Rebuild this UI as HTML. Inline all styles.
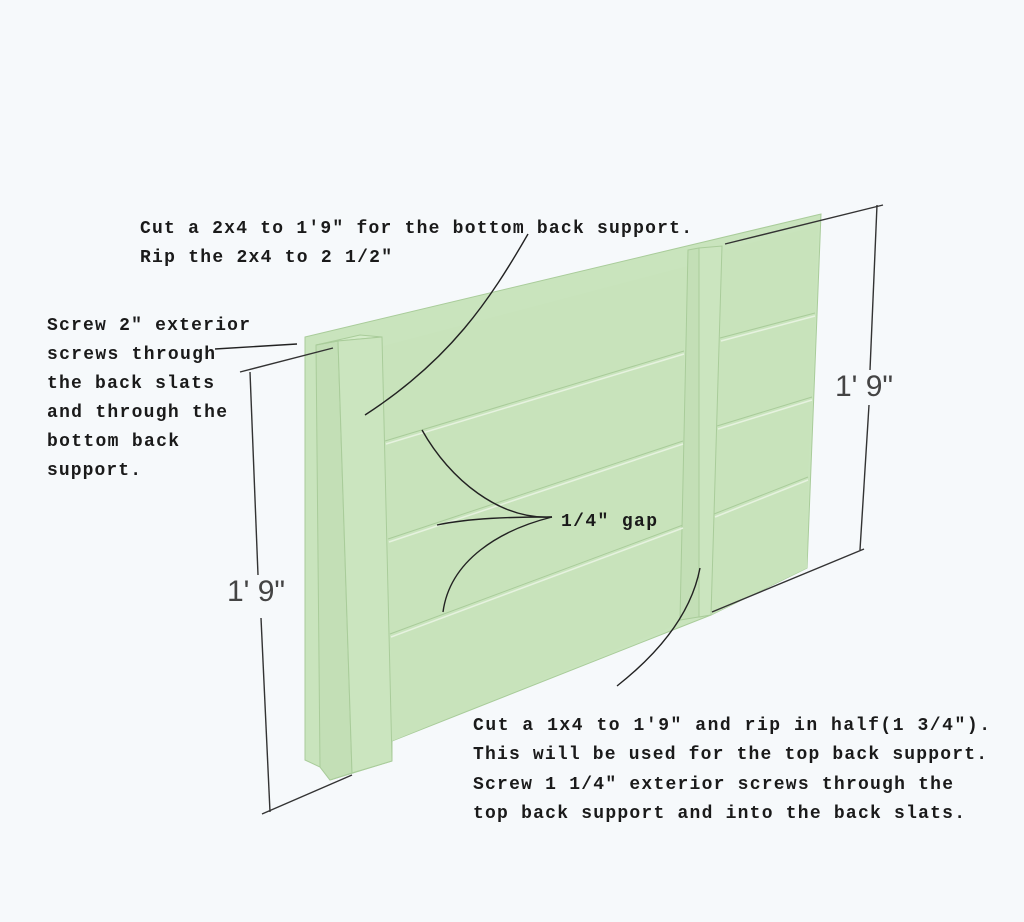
<!DOCTYPE html>
<html><head><meta charset="utf-8"><style>
html,body{margin:0;padding:0;background:#f6f9fb;}
svg{display:block}
.t{font-family:"Liberation Mono",monospace;font-weight:bold;font-size:18px;fill:#1a1a1a}
.d{font-family:"Liberation Sans",sans-serif;font-size:30px;fill:#444;font-weight:normal}
</style></head><body>
<svg width="1024" height="922" viewBox="0 0 1024 922" xmlns="http://www.w3.org/2000/svg">
<rect width="1024" height="922" fill="#f6f9fb"/>
<g stroke="#a9cc9a" stroke-width="1" fill="#c9e4bd">
<polygon points="305,337 821,214 807,568 711,615 392,741 392,761 330,780 320,767 305,760"/>
</g>
<g stroke="none" fill="#c8e3bb">
<polygon points="722,250 818,226 815,313 720,338"/>
<polygon points="720,342 815,317 812,397 717,426"/>
<polygon points="717,430 812,401 808,477 714,514"/>
<polygon points="714,518 808,481 807,568 711,615"/>
<polygon points="383,346 688,266 684,351 385,441"/>
<polygon points="385,445 684,355 683,441 388,539"/>
<polygon points="388,543 683,445 683,525 390,634"/>
<polygon points="390,638 683,529 681,623 392,741"/>
</g>
<g stroke="#a9cc9a" stroke-width="1" fill="none">
<line x1="385" y1="441" x2="684" y2="351"/>
<line x1="388" y1="539" x2="683" y2="441"/>
<line x1="390" y1="634" x2="683" y2="525"/>
<line x1="720" y1="338" x2="815" y2="313"/>
<line x1="717" y1="426" x2="812" y2="397"/>
<line x1="714" y1="514" x2="808" y2="477"/>
</g>
<g stroke="#a9cc9a" stroke-width="1">
<polygon points="688,250 699,248 711,615 680,620" fill="#c3dfb6"/>
<polygon points="699,248 722,246 711,615 699,617" fill="#cbe5bf"/>
<polygon points="316,345 338,341 352,773 330,780 320,767" fill="#c3dfb6"/>
<polygon points="316,345 360,335 382,337 338,341" fill="#d3ebc8"/>
<polygon points="338,341 382,337 392,761 352,773" fill="#cbe5bf"/>
</g>
<g stroke="#e6f2df" stroke-width="1.5">
<line x1="386" y1="444" x2="684" y2="354"/>
<line x1="389" y1="542" x2="683" y2="444"/>
<line x1="391" y1="637" x2="683" y2="528"/>
<line x1="721" y1="341" x2="815" y2="316"/>
<line x1="718" y1="429" x2="812" y2="400"/>
<line x1="715" y1="517" x2="808" y2="480"/>
</g>
<g stroke="#333" stroke-width="1.4" fill="none">
<line x1="240" y1="372" x2="333" y2="348"/>
<line x1="250" y1="372" x2="258" y2="575"/>
<line x1="261" y1="618" x2="270" y2="812"/>
<line x1="262" y1="814" x2="352" y2="775"/>
<line x1="725" y1="244" x2="883" y2="205"/>
<line x1="877" y1="205" x2="870" y2="370"/>
<line x1="869" y1="405" x2="860" y2="550"/>
<line x1="864" y1="549" x2="712" y2="612"/>
</g>
<text class="d" x="227" y="601">1' 9"</text>
<text class="d" x="835" y="396">1' 9"</text>
<g stroke="#222" stroke-width="1.4" fill="none">
<path d="M528,234 C490,300 450,360 365,415"/>
<line x1="215" y1="349" x2="297" y2="344"/>
<path d="M552,517 C500,520 450,480 422,430"/>
<path d="M552,517 C510,517 470,518 437,525"/>
<path d="M552,517 C500,530 450,560 443,612"/>
<path d="M617,686 C650,660 690,620 700,568"/>
</g>
<text class="t" x="140" y="233" textLength="552" lengthAdjust="spacing">Cut a 2x4 to 1'9" for the bottom back support.</text>
<text class="t" x="140" y="262" textLength="252" lengthAdjust="spacing">Rip the 2x4 to 2 1/2"</text>
<text class="t" x="47" y="330" textLength="203" lengthAdjust="spacing">Screw 2" exterior</text>
<text class="t" x="47" y="359" textLength="168" lengthAdjust="spacing">screws through</text>
<text class="t" x="47" y="388" textLength="167" lengthAdjust="spacing">the back slats</text>
<text class="t" x="47" y="417" textLength="180" lengthAdjust="spacing">and through the</text>
<text class="t" x="47" y="446" textLength="132" lengthAdjust="spacing">bottom back</text>
<text class="t" x="47" y="475" textLength="94" lengthAdjust="spacing">support.</text>
<text class="t" x="561" y="526" textLength="96" lengthAdjust="spacing">1/4" gap</text>
<text class="t" x="473" y="730" textLength="517" lengthAdjust="spacing">Cut a 1x4 to 1'9" and rip in half(1 3/4").</text>
<text class="t" x="473" y="759" textLength="514" lengthAdjust="spacing">This will be used for the top back support.</text>
<text class="t" x="473" y="789" textLength="480" lengthAdjust="spacing">Screw 1 1/4" exterior screws through the</text>
<text class="t" x="473" y="818" textLength="492" lengthAdjust="spacing">top back support and into the back slats.</text>
</svg>
</body></html>
